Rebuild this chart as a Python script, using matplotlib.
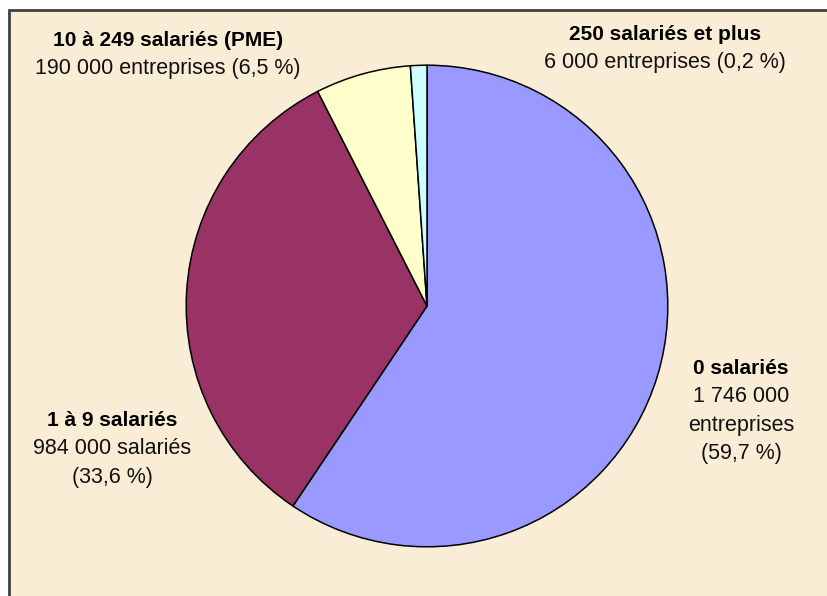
import matplotlib.pyplot as plt
from matplotlib.patches import Rectangle

# slice sizes as drawn in the picture (clockwise from 12 o'clock)
categories = ['0 salariés', '1 à 9 salariés', '10 à 249 salariés (PME)', '250 salariés et plus']
shares = [59.4, 33.1, 6.4, 1.1]
colors = ['#9999FF', '#993366', '#FFFFCC', '#CCFFFF']
details = [['1 746 000', 'entreprises', '(59,7 %)'],
           ['984 000 salariés', '(33,6 %)'],
           ['190 000 entreprises (6,5 %)'],
           ['6 000 entreprises (0,2 %)']]
# label anchor (pixel x, pixel y of title line)
label_pos = [(741, 368), (112, 420), (168, 40), (665, 34)]

W, H = 828, 596
plt.rcParams['font.family'] = ['Liberation Sans', 'DejaVu Sans']
fig = plt.figure(figsize=(W / 100, H / 100), dpi=100)
fig.patch.set_facecolor('white')

# framed parchment background
bg = Rectangle((9 / W, -0.05), 1.1, (H - 10) / H + 0.05,
               transform=fig.transFigure, facecolor='#FAEDD5',
               edgecolor='#404040', linewidth=2, zorder=-5)
fig.patches.append(bg)

ax = fig.add_axes([185 / W, 48 / H, 484 / W, 484 / H])
ax.set_zorder(2)
ax.pie(shares, colors=colors, startangle=90, counterclock=False, radius=1,
       wedgeprops=dict(edgecolor='black', linewidth=1.1))
ax.set_xlim(-1.005, 1.005)
ax.set_ylim(-1.005, 1.005)
ax.set_aspect('equal')
ax.axis('off')

for cat, lines, (px, py) in zip(categories, details, label_pos):
    fig.text(px / W, 1 - py / H, cat, ha='center', va='center',
             fontsize=15, fontweight='bold', color='black', zorder=3)
    for i, line in enumerate(lines):
        fig.text(px / W, 1 - (py + 28.5 * (i + 1)) / H, line, ha='center',
                 va='center', fontsize=15.5, color='#111111', zorder=3)

fig.savefig('out.png', dpi=100)
